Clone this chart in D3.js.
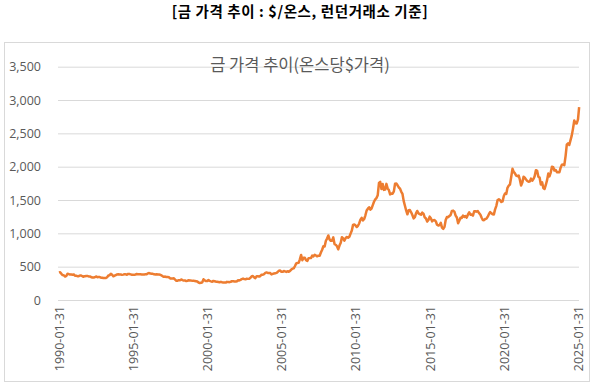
<!DOCTYPE html>
<html>
<head>
<meta charset="utf-8">
<script src="https://cdn.jsdelivr.net/npm/d3@7"></script>
<style>
    body { margin: 0; background: #fff; }
    svg { display: block; }
    .header { font-family: "Noto Sans CJK KR", sans-serif; font-weight: bold; font-size: 14.5px; letter-spacing: 0.6px; fill: #000; }
    .chart-title { font-family: "Noto Sans CJK KR", sans-serif; font-size: 16.5px; fill: #595959; }
    .tick-label { font-family: "Open Sans", "Noto Sans", sans-serif; font-size: 12.5px; fill: #595959; }
</style>
</head>
<body>
<div id="chart"></div>
<script>
// monthly London gold price ($/oz), one row per year, starting 1990-01
const firstYear = 1990;
const prices = [
    410, 417, 393, 374, 369, 352, 362, 395, 389, 381, 382, 378,
    384, 364, 364, 358, 357, 367, 367, 356, 349, 358, 360, 361,
    354, 354, 345, 338, 337, 341, 353, 343, 345, 344, 335, 334,
    329, 329, 330, 342, 367, 372, 393, 378, 355, 365, 374, 383,
    387, 382, 384, 377, 381, 386, 385, 380, 391, 389, 384, 379,
    379, 377, 382, 391, 385, 387, 386, 383, 383, 383, 386, 387,
    400, 405, 396, 393, 392, 385, 383, 387, 383, 381, 378, 369,
    355, 347, 352, 344, 344, 341, 324, 324, 323, 325, 306, 289,
    289, 297, 296, 308, 299, 292, 293, 284, 289, 296, 294, 291,
    287, 288, 286, 282, 277, 262, 256, 257, 265, 311, 293, 284,
    284, 300, 286, 280, 275, 286, 282, 275, 273, 270, 266, 272,
    266, 262, 263, 261, 272, 270, 268, 273, 283, 283, 276, 276,
    282, 296, 294, 302, 314, 321, 313, 310, 319, 317, 319, 333,
    357, 359, 340, 328, 355, 356, 351, 360, 379, 379, 389, 407,
    414, 405, 406, 404, 384, 392, 398, 400, 406, 420, 439, 442,
    424, 423, 434, 429, 422, 431, 424, 437, 456, 470, 476, 510,
    549, 555, 557, 610, 676, 596, 633, 632, 598, 586, 628, 629,
    631, 665, 655, 679, 667, 655, 665, 665, 712, 754, 806, 803,
    889, 922, 968, 909, 888, 889, 939, 839, 829, 806, 760, 816,
    858, 943, 924, 890, 928, 946, 934, 949, 996, 1043, 1127, 1134,
    1118, 1095, 1114, 1148, 1205, 1233, 1193, 1215, 1271, 1343, 1370, 1391,
    1356, 1372, 1424, 1474, 1510, 1529, 1572, 1756, 1772, 1665, 1739, 1652,
    1656, 1742, 1674, 1650, 1585, 1596, 1594, 1630, 1744, 1747, 1721, 1688,
    1670, 1627, 1593, 1487, 1414, 1343, 1286, 1347, 1349, 1316, 1275, 1225,
    1244, 1300, 1336, 1299, 1288, 1279, 1311, 1296, 1239, 1222, 1176, 1201,
    1251, 1227, 1179, 1198, 1199, 1181, 1129, 1117, 1125, 1157, 1086, 1068,
    1097, 1200, 1246, 1242, 1260, 1276, 1337, 1341, 1326, 1267, 1238, 1152,
    1192, 1234, 1231, 1266, 1246, 1260, 1236, 1283, 1314, 1280, 1283, 1265,
    1331, 1331, 1325, 1335, 1303, 1282, 1238, 1201, 1198, 1215, 1221, 1250,
    1291, 1320, 1300, 1286, 1284, 1359, 1413, 1500, 1510, 1495, 1470, 1480,
    1560, 1597, 1592, 1683, 1716, 1732, 1846, 1968, 1922, 1900, 1866, 1858,
    1867, 1808, 1718, 1761, 1850, 1834, 1807, 1785, 1775, 1777, 1821, 1790,
    1817, 1856, 1948, 1937, 1849, 1837, 1733, 1765, 1681, 1665, 1726, 1798,
    1898, 1854, 1912, 1999, 1992, 1943, 1951, 1918, 1916, 1916, 1985, 2031,
    2034, 2024, 2159, 2332, 2351, 2326, 2398, 2470, 2571, 2692, 2651, 2648,
    2709, 2895
];
const yTicks = [0, 500, 1000, 1500, 2000, 2500, 3000, 3500];
const xTickLabels = ["1990-01-31", "1995-01-31", "2000-01-31", "2005-01-31",
    "2010-01-31", "2015-01-31", "2020-01-31", "2025-01-31"];

const width = 600, height = 385;
const plot = { left: 58, right: 579, top: 66.7, bottom: 300 };

let svg = d3.select("#chart")
    .append("svg")
    .attr("width", width)
    .attr("height", height);

// chart frame
svg.append("rect")
    .attr("x", 4.5).attr("y", 42.5)
    .attr("width", 585).attr("height", 339)
    .attr("fill", "#fff")
    .attr("stroke", "#d9d9d9");

svg.append("text")
    .attr("class", "header")
    .attr("x", 300).attr("y", 17)
    .attr("text-anchor", "middle")
    .text("[금 가격 추이 : $/온스, 런던거래소 기준]");

let parse = d3.timeParse("%Y-%m-%d");
let data = prices.map((p, i) => ({ date: new Date(firstYear, i + 1, 0), value: p }));

let x = d3.scaleTime()
    .domain([parse(xTickLabels[0]), parse(xTickLabels[xTickLabels.length - 1])])
    .range([plot.left + 1, plot.right - 1]);

let y = d3.scaleLinear()
    .domain([0, 3500])
    .range([plot.bottom, plot.top]);

// gridlines + y labels
let yAxis = svg.append("g")
    .attr("transform", `translate(${plot.left}, 0)`)
    .call(d3.axisLeft(y).tickValues(yTicks).tickSize(-(plot.right - plot.left)).tickPadding(17).tickFormat(d3.format(",")));
yAxis.select(".domain").remove();
yAxis.selectAll("line").attr("stroke", "#d9d9d9");
yAxis.selectAll("text").attr("class", "tick-label").attr("font-size", null).attr("font-family", null).attr("fill", null);

svg.append("text")
    .attr("class", "chart-title")
    .attr("x", 300).attr("y", 71)
    .attr("text-anchor", "middle")
    .text("금 가격 추이(온스당$가격)");

// x labels, rotated
let xAxis = svg.append("g")
    .attr("transform", `translate(0, ${plot.bottom})`)
    .call(d3.axisBottom(x).tickValues(xTickLabels.map(parse)).tickSize(0).tickFormat(d3.timeFormat("%Y-%m-%d")));
xAxis.select(".domain").remove();
xAxis.selectAll("text")
    .attr("class", "tick-label")
    .attr("font-size", null).attr("font-family", null).attr("fill", null)
    .attr("transform", "rotate(-90)")
    .attr("text-anchor", "end")
    .attr("x", -6).attr("y", 0).attr("dy", "0.35em");

let line = d3.line()
    .x(d => x(d.date))
    .y(d => y(d.value));

svg.append("path")
    .datum(data)
    .attr("fill", "none")
    .attr("stroke", "#ED7D31")
    .attr("stroke-width", 2.5)
    .attr("stroke-linejoin", "round")
    .attr("d", line);
</script>
</body>
</html>
